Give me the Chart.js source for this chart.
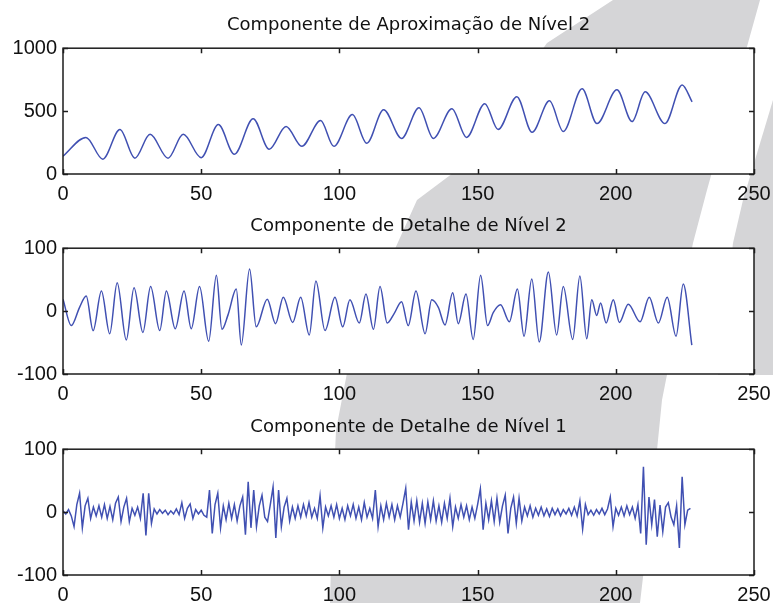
<!DOCTYPE html>
<html>
<head>
<meta charset="utf-8">
<script src="https://cdn.jsdelivr.net/npm/chart.js@4.4.1/dist/chart.umd.min.js"></script>
<style>
  html, body { margin: 0; padding: 0; background: #fff; }
  #page { position: relative; width: 773px; height: 603px; overflow: hidden; }
  #page svg, #page canvas { position: absolute; left: 0; top: 0; }
</style>
</head>
<body>
<div id="page">
  <svg width="773" height="603">
    <path d="M613,0 L547,43 L453,173 L417,200 L390,260 L347,373 L336,430 L332,520 L330,603 L640,603 L652,500 L662,400 L693,243 L707,190 L760,0 Z" fill="#d5d5d7"/>
    <path d="M773,100 L743,200 L733,243 L718,375 L773,375 Z" fill="#d5d5d7"/>
  </svg>
  <canvas id="c1" width="773" height="603"></canvas>
  <canvas id="c2" width="773" height="603"></canvas>
  <canvas id="c3" width="773" height="603"></canvas>
</div>
<script>
const xTicks = [0, 50, 100, 150, 200, 250];

// Componente de Aproximação de Nível 2 (picos e vales)
const approxX = [0, 8.3, 14.4, 20.6, 26, 31.5, 38, 43.5, 50, 56.2, 62, 68.8, 74.6, 80.7, 86.4, 93.2, 98, 104.7, 109.9, 116,
  122.5, 128.8, 134, 140.7, 146, 152.6, 157.4, 164.2, 169.7, 176, 181, 187.8, 193.2, 200.4, 205.9, 210.6, 217.8, 224, 227.6];
const approxY = [142, 291, 118, 354, 126, 315, 126, 315, 130, 393, 157, 440, 197, 378, 220, 425, 220, 472, 244, 511,
  283, 527, 283, 519, 291, 559, 354, 614, 331, 582, 338, 677, 401, 669, 417, 653, 401, 708, 574];

// Componente de Detalhe de Nível 2
const det2X = [0, 3.0, 6.0, 8.4, 10.9, 13.9, 16.9, 19.6, 22.9, 25.7, 28.9, 31.7, 35.0, 37.4, 40.6, 43.8, 46.4, 49.4, 52.7, 55.5,
  57.5, 59.7, 62.7, 64.5, 67.5, 69.9, 73.9, 76.9, 79.7, 83.1, 86.0, 89.1, 91.5, 94.8, 98.4, 101.2, 103.8, 107.2, 109.6, 112.3,
  114.7, 117.3, 119.8, 122.5, 124.9, 127.7, 131, 133.4, 135.8, 138.2, 141, 143, 145.8, 148.4, 151.1, 153.6, 155.7, 158.3, 161.5, 164.4,
  166.8, 169.6, 172.3, 175.6, 178.6, 181, 184.4, 187, 189.5, 191.3, 193.1, 194.5, 196.5, 199.1, 201.3, 204.5, 208.8, 212.1, 215.4, 218.6,
  221.8, 224.4, 227.5];
const det2Y = [19, -23, 6, 24, -31, 32, -36, 45, -46, 37, -34, 39, -31, 32, -28, 32, -28, 39, -48, 57,
  -29, -6, 35, -54, 67, -25, 19, -20, 22, -18, 22, -38, 48, -31, 22, -25, 18, -19, 27, -29,
  39, -19, -4, 15, -23, 32, -36, 18, 6, -22, 29, -20, 27, -45, 57, -23, -2, 10, -17, 35,
  -40, 51, -49, 62, -38, 39, -45, 56, -44, 18, -7, 13, -19, 18, -18, 11, -17, 22, -19, 22,
  -40, 43, -54];

// Componente de Detalhe de Nível 1 (um valor por amostra, 0..227)
const det1Y = [
  2, -3, 4, -6, -23, 12, 30, -25, 10, 22,
  -10, 8, -6, 10, -8, 12, -10, 9, -12, 14,
  24, -15, 8, 22, -15, 6, -5, 8, -10, 30,
  -37, 30, -18, 5, -3, 4, -2, 3, -4, 2,
  -3, 5, -4, 15, -10, 6, 13, -10, 4, -3,
  3, -5, -8, 35, -34, 12, 30, -25, 10, -12,
  14, -10, 12, -14, 10, 24, -36, 48, -25, 35,
  -23, 10, 27, -8, -15, 12, 40, -41, 35, -23,
  8, 22, -14, 8, -10, 10, -8, 12, -6, 15,
  -8, 6, -10, 26, -25, 8, -6, 10, -8, 12,
  -10, 6, -12, 10, -6, 12, -10, 8, -12, 15,
  -8, 6, -10, 35, -23, 10, -12, 14, -8, 12,
  -12, 10, -8, 14, 38, -28, 16, -14, 18, -16,
  14, -18, 16, -12, 18, -14, 10, -16, 14, -10,
  22, -23, 8, -10, 12, -8, 10, -12, 8, -10,
  12, 37, -28, 14, -12, 18, -15, 22, -16, 10,
  27, -34, 6, 24, -18, 22, -14, 8, -6, 10,
  -8, 6, -5, 8, -6, 5, -7, 6, -4, 5,
  -6, 4, -3, 6, -5, 8, -6, 18, -27, 12,
  -4, 3, -5, 4, -3, 6, -4, 5, 24, -23,
  6, -5, 8, -6, 10, -4, 8, -10, 12, -34,
  72, -52, 24, -20, 20, -39, 11, -31, 8, 15,
  -8, -20, 10, -57, 56, -20, 3, 6
];

const LINE = '#4050b2';
const tickFont = { family: '"Liberation Sans", sans-serif', size: 20 };
const titleFont = { family: '"DejaVu Sans", sans-serif', size: 18, weight: 'normal' };

const framePlugin = {
  id: 'frame',
  beforeDraw(chart) {
    const { ctx, chartArea: a } = chart;
    ctx.save();
    ctx.fillStyle = '#fff';
    ctx.fillRect(a.left, a.top, a.right - a.left, a.bottom - a.top);
    ctx.restore();
  },
  afterDraw(chart) {
    const { ctx, chartArea: a, scales } = chart;
    ctx.save();
    ctx.strokeStyle = '#1c1c1c';
    ctx.lineWidth = 1.5;
    ctx.strokeRect(a.left, a.top, a.right - a.left, a.bottom - a.top);
    ctx.beginPath();
    scales.x.ticks.forEach((t) => {
      const px = Math.round(scales.x.getPixelForValue(t.value)) + 0.5;
      ctx.moveTo(px, a.bottom); ctx.lineTo(px, a.bottom - 5);
      ctx.moveTo(px, a.top); ctx.lineTo(px, a.top + 5);
    });
    scales.y.ticks.forEach((t) => {
      const py = Math.round(scales.y.getPixelForValue(t.value)) + 0.5;
      ctx.moveTo(a.left, py); ctx.lineTo(a.left + 5, py);
      ctx.moveTo(a.right, py); ctx.lineTo(a.right - 5, py);
    });
    ctx.stroke();
    ctx.restore();
  }
};

function pairs(xs, ys) {
  return xs.map((x, i) => ({ x, y: ys[i] }));
}

function makeChart(id, cfg) {
  return new Chart(document.getElementById(id), {
    type: 'line',
    data: {
      datasets: [{
        data: cfg.data,
        borderColor: LINE,
        borderWidth: 1.5,
        pointRadius: 0,
        cubicInterpolationMode: cfg.smooth ? 'monotone' : 'default',
        tension: 0,
        fill: false
      }]
    },
    options: {
      responsive: false,
      animation: false,
      devicePixelRatio: 1,
      layout: { padding: { top: cfg.padTop, bottom: cfg.padBottom, left: 0, right: 19 } },
      plugins: {
        legend: { display: false },
        tooltip: { enabled: false },
        title: {
          display: true,
          text: cfg.title,
          fullSize: false,
          color: '#111',
          font: titleFont,
          padding: { top: cfg.titleTop, bottom: cfg.titleBottom }
        }
      },
      scales: {
        x: {
          type: 'linear',
          min: 0,
          max: 250,
          afterBuildTicks: (s) => { s.ticks = xTicks.map((v) => ({ value: v })); },
          afterFit: (s) => { s.height = 26; s.paddingLeft = 0; s.paddingRight = 0; },
          grid: { display: false, drawTicks: false },
          border: { display: false },
          ticks: { color: '#111', font: tickFont, padding: 8, maxRotation: 0, autoSkip: false, callback: (v) => String(v) }
        },
        y: {
          min: cfg.yMin,
          max: cfg.yMax,
          afterBuildTicks: (s) => { s.ticks = cfg.yTicks.map((v) => ({ value: v })); },
          afterFit: (s) => { s.width = 63; s.paddingTop = 0; s.paddingBottom = 0; },
          grid: { display: false, drawTicks: false },
          border: { display: false },
          ticks: { color: '#111', font: tickFont, padding: 6, callback: (v) => String(v) }
        }
      }
    },
    plugins: [framePlugin]
  });
}

makeChart('c1', {
  title: 'Componente de Aproximação de Nível 2',
  data: pairs(approxX, approxY),
  smooth: true,
  yMin: 0, yMax: 1000, yTicks: [0, 500, 1000],
  padTop: 0, padBottom: 403, titleTop: 15, titleBottom: 11.6
});

makeChart('c2', {
  title: 'Componente de Detalhe de Nível 2',
  data: pairs(det2X, det2Y),
  smooth: true,
  yMin: -100, yMax: 100, yTicks: [-100, 0, 100],
  padTop: 200, padBottom: 203, titleTop: 16, titleBottom: 10.6
});

makeChart('c3', {
  title: 'Componente de Detalhe de Nível 1',
  data: det1Y.map((y, i) => ({ x: i, y })),
  smooth: false,
  yMin: -100, yMax: 100, yTicks: [-100, 0, 100],
  padTop: 400, padBottom: 2, titleTop: 17, titleBottom: 10.6
});
</script>
</body>
</html>
